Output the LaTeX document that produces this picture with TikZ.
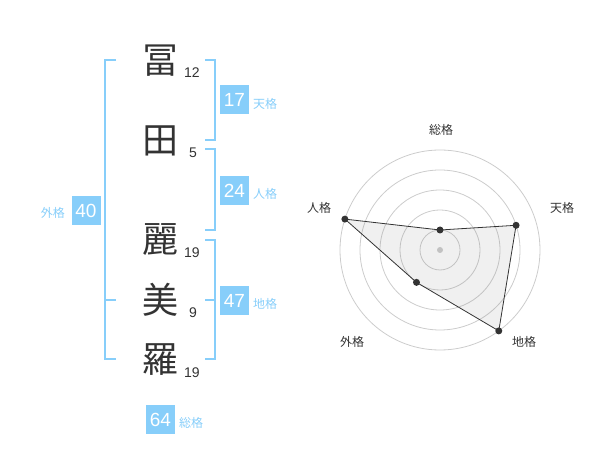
\documentclass[tikz,border=0pt]{standalone}
\usepackage{fontspec}
\setmainfont{Liberation Sans}
\newfontfamily\jp{Noto Sans CJK JP}
\definecolor{blu}{HTML}{87CEFA}
\definecolor{ink}{HTML}{333333}
\definecolor{ringc}{HTML}{CCCCCC}
\begin{document}
\begin{tikzpicture}[x=1pt,y=-1pt,
 kanji/.style={font=\jp\fontsize{36}{36}\selectfont, text=ink, inner sep=0pt},
 strokes/.style={font=\fontsize{14}{14}\selectfont, text=ink, inner sep=0pt},
 valbox/.style={fill=blu, text=white, minimum width=29pt, minimum height=29pt, inner sep=0pt, font=\fontsize{19}{19}\selectfont},
 kaku/.style={font=\jp\fontsize{12}{12}\selectfont, text=blu, inner sep=0pt},
 bracket/.style={draw=blu, line width=2pt},
 ring/.style={draw=ringc, line width=0.8pt},
 axislabel/.style={font=\jp\fontsize{12}{12}\selectfont, text=ink, inner sep=0pt},
 dot/.style={circle, fill=ink, inner sep=0pt, minimum size=7pt},
]
\useasboundingbox (0,0) rectangle (600,470);

% name characters
\node[kanji] (c1) at (160,61) {冨};
\node[kanji] (c2) at (160,141) {田};
\node[kanji] (c3) at (160,240) {麗};
\node[kanji] (c4) at (160,300) {美};
\node[kanji] (c5) at (160,360) {羅};

% stroke counts
\node[strokes] (s1) at (192,73) {12};
\node[strokes] (s2) at (193,153) {5};
\node[strokes] (s3) at (192,253) {19};
\node[strokes] (s4) at (193,313) {9};
\node[strokes] (s5) at (192,373) {19};

% brackets
\draw[bracket] (205,60) -- (215,60) -- (215,140) -- (205,140);
\draw[bracket] (205,149) -- (215,149) -- (215,230) -- (205,230);
\draw[bracket] (205,240) -- (215,240) -- (215,359) -- (205,359);
\draw[bracket] (205,300) -- (215,300);
\draw[bracket] (116,60) -- (105,60) -- (105,359) -- (116,359);
\draw[bracket] (105,300) -- (116,300);

% values
\node[valbox] (v1) at (234.5,100) {17};
\node[kaku, anchor=west] (l1) at (253,104) {天格};
\node[valbox] (v2) at (234.5,190.5) {24};
\node[kaku, anchor=west] (l2) at (253,194) {人格};
\node[valbox] (v3) at (86,210.5) {40};
\node[kaku, anchor=east] (l3) at (65,213) {外格};
\node[valbox] (v4) at (234.5,300.5) {47};
\node[kaku, anchor=west] (l4) at (253,304) {地格};
\node[valbox] (v5) at (160.5,419.5) {64};
\node[kaku, anchor=west] (l5) at (179,423) {総格};

% radar
\foreach \r in {20,40,60,80,100} \draw[ring] (440,250) circle[radius=\r];
\node[circle, fill=ringc, inner sep=0pt, minimum size=6pt] (ctr) at (440,250) {};
\coordinate (pz) at (440,230);
\coordinate (pt) at (516.08,225.28);
\coordinate (pc) at (498.78,330.90);
\coordinate (pg) at (416.49,282.36);
\coordinate (pj) at (344.89,219.10);
\fill[gray, fill opacity=0.12] (pz) -- (pt) -- (pc) -- (pg) -- (pj) -- cycle;
\draw[ink, line width=0.8pt] (pz) -- (pt) -- (pc) -- (pg) -- (pj) -- cycle;
\node[dot] (dz) at (pz) {};
\node[dot] (dt) at (pt) {};
\node[dot] (dc) at (pc) {};
\node[dot] (dg) at (pg) {};
\node[dot] (dj) at (pj) {};

\node[axislabel] (az) at (441,130) {総格};
\node[axislabel] (at) at (562,208) {天格};
\node[axislabel] (aj) at (319,208) {人格};
\node[axislabel] (ag) at (352,342) {外格};
\node[axislabel] (ac) at (524,342) {地格};
\end{tikzpicture}
\end{document}
